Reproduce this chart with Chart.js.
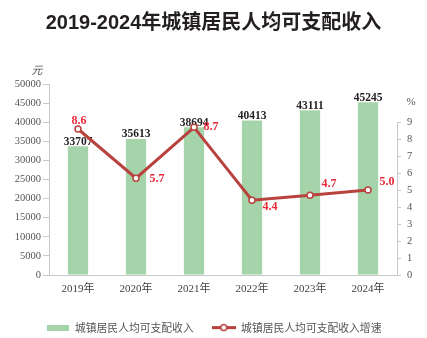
<!DOCTYPE html>
<html>
<head>
<meta charset="utf-8">
<script src="https://cdn.jsdelivr.net/npm/chart.js@4.4.1/dist/chart.umd.min.js"></script>
<style>
  html, body { margin: 0; padding: 0; background: #fff; }
</style>
</head>
<body>
<canvas id="incomeChart" width="427" height="338"></canvas>
<script>
const years = ['2019年', '2020年', '2021年', '2022年', '2023年', '2024年'];
const income = [33707, 35613, 38694, 40413, 43111, 45245];   // 元
const growth = [8.6, 5.7, 8.7, 4.4, 4.7, 5.0];               // %
const growthTicks = [0, 1, 2, 3, 4, 5, 6, 7, 8, 9];

// where each growth label sits relative to its point (dx, dy)
const growthLabelOffset = [[1, -8], [21, 1], [17, 0], [18, 7], [19, -11], [19, -8]];

const GREEN = '#a6d4aa';
const RED_LINE = '#b8423d';
const RED_TEXT = '#ea2a3a';
const AXIS = '#c9c9c9';
const SERIF = "'Liberation Serif', 'Noto Sans CJK SC', serif";
const SANS_CJK = "'Noto Sans CJK SC', sans-serif";

// legend swatches
function barSwatch() {
    const c = document.createElement('canvas');
    c.width = 22; c.height = 6;
    const g = c.getContext('2d');
    g.fillStyle = GREEN;
    g.fillRect(0, 0, 22, 6);
    return c;
}
function lineSwatch() {
    const c = document.createElement('canvas');
    c.width = 24; c.height = 9;
    const g = c.getContext('2d');
    g.fillStyle = RED_LINE;
    g.fillRect(0, 3, 24, 3);
    g.beginPath();
    g.arc(12, 4.5, 3, 0, Math.PI * 2);
    g.fillStyle = '#fff';
    g.fill();
    g.lineWidth = 1.5;
    g.strokeStyle = RED_LINE;
    g.stroke();
    return c;
}
const swatches = [barSwatch(), lineSwatch()];

const labelsPlugin = {
    id: 'valueLabels',
    afterDatasetDraw(chart, args) {
        const ctx = chart.ctx;
        ctx.save();
        if (args.index === 0) {
            // income values on top of the bars
            ctx.font = 'bold 11.5px ' + SERIF;
            ctx.fillStyle = '#231f20';
            ctx.textAlign = 'center';
            ctx.textBaseline = 'alphabetic';
            args.meta.data.forEach((bar, i) => {
                ctx.fillText(String(income[i]), bar.x, bar.y - 1.5);
            });
        } else {
            ctx.font = 'bold 12px ' + SERIF;
            ctx.fillStyle = RED_TEXT;
            ctx.textAlign = 'center';
            ctx.textBaseline = 'middle';
            args.meta.data.forEach((pt, i) => {
                const [dx, dy] = growthLabelOffset[i];
                ctx.fillText(growth[i].toFixed(1), pt.x + dx, pt.y + dy);
            });
        }
        ctx.restore();
    },
    afterDraw(chart) {
        const {ctx, chartArea, scales} = chart;
        const y1 = scales.y1;
        ctx.save();
        // right axis line only runs from 0 to 9
        ctx.strokeStyle = AXIS;
        ctx.lineWidth = 1;
        ctx.beginPath();
        ctx.moveTo(chartArea.right + 0.5, y1.getPixelForValue(0));
        ctx.lineTo(chartArea.right + 0.5, y1.getPixelForValue(9));
        ctx.stroke();
        // unit captions
        ctx.fillStyle = '#555';
        ctx.textAlign = 'center';
        ctx.textBaseline = 'middle';
        ctx.font = 'italic 11px ' + SANS_CJK;
        ctx.fillText('元', chartArea.left - 12, chartArea.top - 14);
        ctx.font = '11px ' + SERIF;
        ctx.fillText('%', chartArea.right + 14, y1.getPixelForValue(9) - 20);
        ctx.restore();
    }
};

new Chart(document.getElementById('incomeChart'), {
    data: {
        labels: years,
        datasets: [{
            type: 'bar',
            label: '城镇居民人均可支配收入',
            data: income,
            backgroundColor: GREEN,
            barPercentage: 0.35,
            categoryPercentage: 1,
            yAxisID: 'y',
            order: 2
        }, {
            type: 'line',
            label: '城镇居民人均可支配收入增速',
            data: growth,
            borderColor: RED_LINE,
            borderWidth: 3,
            pointRadius: 3,
            pointBorderWidth: 1.5,
            pointBackgroundColor: '#fff',
            pointBorderColor: RED_LINE,
            tension: 0,
            yAxisID: 'y1',
            order: 1
        }]
    },
    options: {
        responsive: false,
        animation: false,
        layout: { padding: { left: 0, right: 0, top: 0, bottom: -5 } },
        scales: {
            x: {
                grid: { display: false, drawTicks: false },
                border: { display: true, color: AXIS },
                ticks: { color: '#444', padding: 8, font: { family: SERIF, size: 11 } }
            },
            y: {
                position: 'left',
                min: 0,
                max: 50000,
                grid: { drawOnChartArea: false, tickLength: 6, color: AXIS },
                border: { display: true, color: AXIS },
                ticks: {
                    stepSize: 5000, padding: 2, color: '#555',
                    font: { family: SERIF, size: 10.5 },
                    callback: v => String(v)
                },
                afterFit(scale) { scale.width = 49; }
            },
            y1: {
                position: 'right',
                min: 0,
                max: 11.25,
                afterBuildTicks(scale) {
                    scale.ticks = growthTicks.map(v => ({ value: v }));
                },
                grid: { drawOnChartArea: false, tickLength: 4, color: AXIS },
                border: { display: false },
                ticks: { padding: 6, color: '#555', font: { family: SERIF, size: 10.5 } },
                afterFit(scale) { scale.width = 30; }
            }
        },
        plugins: {
            title: {
                display: true,
                text: '2019-2024年城镇居民人均可支配收入',
                color: '#231f20',
                font: { family: "'Liberation Sans', 'Noto Sans CJK SC', sans-serif", size: 20, weight: 'bold' },
                padding: { top: 11, bottom: 49 }
            },
            legend: {
                position: 'bottom',
                labels: {
                    usePointStyle: true,
                    pointStyleWidth: 24,
                    padding: 18,
                    color: '#555',
                    font: { family: SANS_CJK, size: 10.8 },
                    sort: (a, b) => a.datasetIndex - b.datasetIndex,
                    generateLabels(chart) {
                        const items = Chart.defaults.plugins.legend.labels.generateLabels(chart);
                        items.forEach(it => { it.pointStyle = swatches[it.datasetIndex]; });
                        return items;
                    }
                }
            },
            tooltip: { enabled: false }
        }
    },
    plugins: [labelsPlugin]
});
</script>
</body>
</html>
